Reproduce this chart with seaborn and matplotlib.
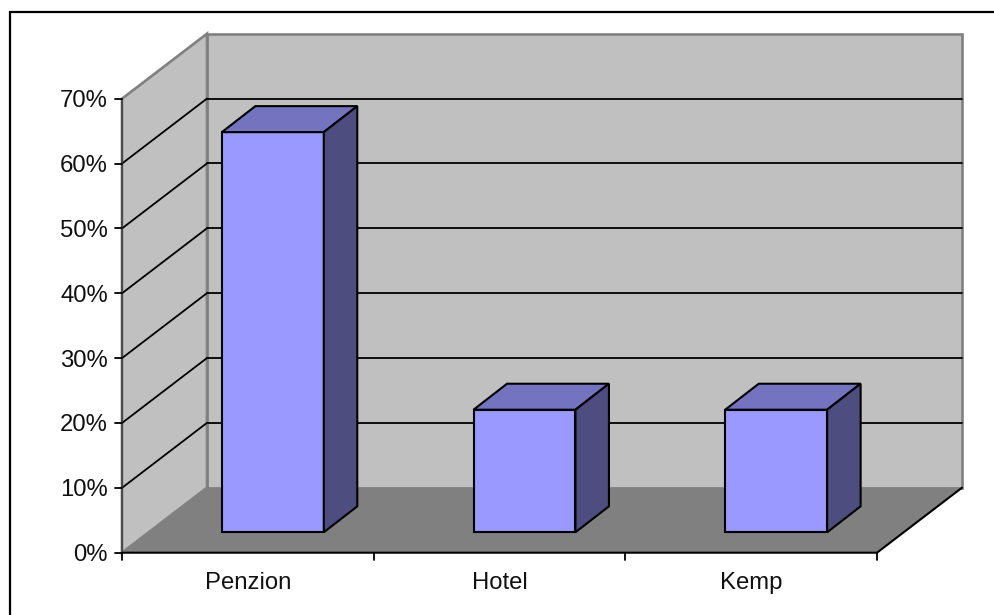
import matplotlib
matplotlib.use("Agg")
import matplotlib.pyplot as plt
import pandas as pd
import seaborn as sns
from matplotlib.lines import Line2D
from matplotlib.patches import Polygon, Rectangle
from matplotlib.transforms import Affine2D

categories = ["Penzion", "Hotel", "Kemp"]
shares = [61.7, 18.9, 18.9]
y_ticks = [0, 10, 20, 30, 40, 50, 60, 70]

W, H = 995, 615
# 3d look: how far back the walls go, and where the bars sit inside, in pixels
WALL_DX, WALL_DY = 85, 65
BAR_DX, BAR_DY = 25, 20.4
BAR_DEPTH_X, BAR_DEPTH_Y = 33.5, 26

sns.set_theme(style="white")
plt.rcParams["font.family"] = ["Liberation Sans", "DejaVu Sans"]

fig = plt.figure(figsize=(W / 100, H / 100), dpi=100)
ax = fig.add_axes([122 / W, 1 - 552.7 / H, 755 / W, 454 / H])

df = pd.DataFrame({"kategorie": categories, "podil": shares})
sns.barplot(data=df, x="kategorie", y="podil", ax=ax, width=0.405, color="#9999ff",
            saturation=1, edgecolor="black", linewidth=1.5, zorder=5)

ax.set_xlim(-0.5, 2.5)
ax.set_ylim(0, 70)
ax.set_xlabel("")
ax.set_ylabel("")

x0, x1 = ax.get_xlim()
ymax = y_ticks[-1]


def poly(points, color, edge="none", lw=0, z=1):
    ax.add_patch(Polygon(points, closed=True, facecolor=color, edgecolor=edge, linewidth=lw,
                         transform=ax.transData, clip_on=False, zorder=z))


def shifted(x, y, dx, dy):
    # data point moved by a pixel offset, returned in data coordinates
    px = ax.transData.transform((x, y)) + (dx, dy)
    return ax.transData.inverted().transform(px)


fig.canvas.draw()

# walls and floor
back = [shifted(x, y, WALL_DX, WALL_DY) for x, y in [(x0, 0), (x1, 0), (x1, ymax), (x0, ymax)]]
poly(back, "#c0c0c0", "#808080", 1.9, 1)
floor = [(x0, 0), (x1, 0), shifted(x1, 0, WALL_DX, WALL_DY), shifted(x0, 0, WALL_DX, WALL_DY)]
poly(floor, "#808080", "none", 0, 2)
side = [(x0, 0), shifted(x0, 0, WALL_DX, WALL_DY), shifted(x0, ymax, WALL_DX, WALL_DY), (x0, ymax)]
poly(side, "#c0c0c0", "#808080", 1.9, 2.5)

# gridlines on the side wall and the back wall, the top one is the grey wall edge
for t in y_ticks[1:-1]:
    a = shifted(x0, t, 0, 0)
    b = shifted(x0, t, WALL_DX, WALL_DY)
    c = shifted(x1, t, WALL_DX, WALL_DY)
    ax.plot([a[0], b[0]], [a[1], b[1]], color="black", lw=1.3, clip_on=False, zorder=3)
    ax.plot([b[0], c[0]], [b[1], c[1]], color="black", lw=1.3, clip_on=False, zorder=3)

# floor front and right edge, y axis
br = shifted(x1, 0, WALL_DX, WALL_DY)
ax.plot([x0, x1, br[0]], [0, 0, br[1]], color="black", lw=1.5, clip_on=False, zorder=4)
ax.plot([x0, x0], [0, ymax], color="#404040", lw=1.2, clip_on=False, zorder=4)

# bars: move the seaborn rectangles into the room and add top and side faces
bar_shift = ax.transData + Affine2D().translate(BAR_DX, BAR_DY)
for bar in ax.patches:
    if not isinstance(bar, Rectangle):
        continue
    left, right = bar.get_x(), bar.get_x() + bar.get_width()
    top = bar.get_height()
    bar.set_transform(bar_shift)
    bar.set_clip_on(False)
    fr = shifted(right, 0, BAR_DX, BAR_DY)
    tl = shifted(left, top, BAR_DX, BAR_DY)
    tr = shifted(right, top, BAR_DX, BAR_DY)
    tbl = shifted(left, top, BAR_DX + BAR_DEPTH_X, BAR_DY + BAR_DEPTH_Y)
    tbr = shifted(right, top, BAR_DX + BAR_DEPTH_X, BAR_DY + BAR_DEPTH_Y)
    bbr = shifted(right, 0, BAR_DX + BAR_DEPTH_X, BAR_DY + BAR_DEPTH_Y)
    poly([tl, tr, tbr, tbl], "#7373bf", "black", 1.5, 5)
    poly([fr, tr, tbr, bbr], "#4d4d80", "black", 1.5, 5)

for s in ax.spines.values():
    s.set_visible(False)

ax.set_yticks(y_ticks)
ax.set_yticklabels([f"{t}%" for t in y_ticks])
ax.set_xticks(range(len(categories)))
ax.set_xticklabels(categories)
ax.tick_params(axis="both", length=0, labelsize=17.2, labelcolor="#111111")
ax.tick_params(axis="y", pad=10)
ax.tick_params(axis="x", pad=14)

# outward tick marks: y ticks at the values, x ticks between the categories
for t in y_ticks:
    a = shifted(x0, t, -7, 0)
    ax.plot([a[0], x0], [t, t], color="black", lw=1.3, clip_on=False, zorder=4)
for x in [x0, x0 + 1, x0 + 2, x1]:
    a = shifted(x, 0, 0, -7)
    ax.plot([x, x], [a[1], 0], color="black", lw=1.3, clip_on=False, zorder=4)

ax.set_xlim(x0, x1)
ax.set_ylim(0, ymax)

# chart area frame, only the top and left edges are inside the picture
fig.add_artist(Line2D([9.5 / W, 9.5 / W, 1], [0, 1 - 12.4 / H, 1 - 12.4 / H],
                      transform=fig.transFigure, color="black", lw=1.6,
                      solid_joinstyle="miter"))

fig.savefig("out.png", dpi=100)
